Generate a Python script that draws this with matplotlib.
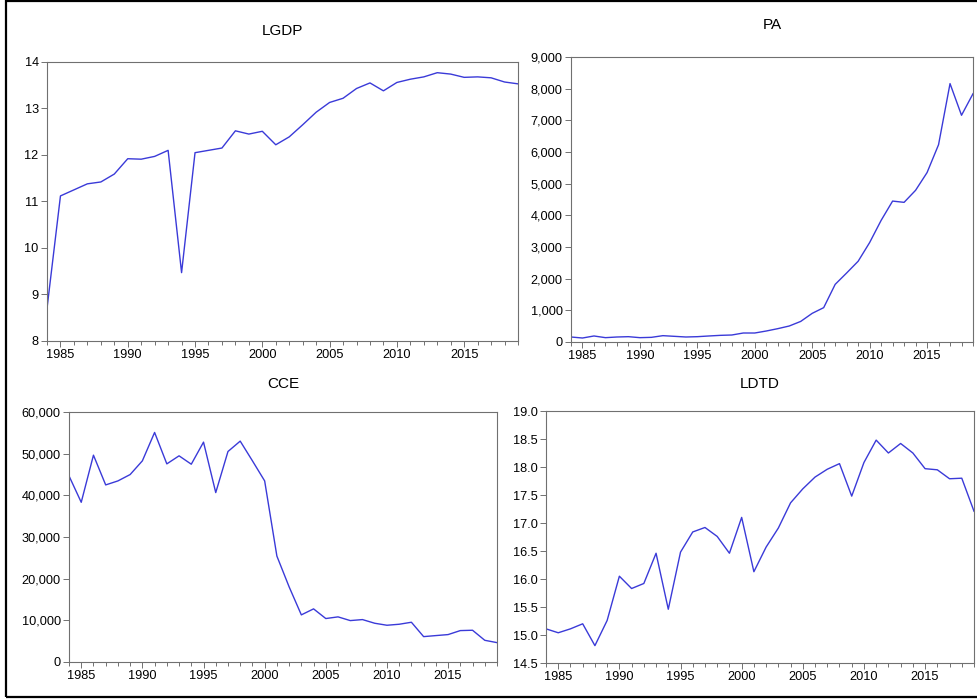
import matplotlib
matplotlib.use('Agg')
import matplotlib.pyplot as plt
from matplotlib.ticker import MultipleLocator, FuncFormatter
from matplotlib.patches import Rectangle

plt.rcParams['font.family'] = ['Liberation Sans', 'DejaVu Sans']

years = list(range(1984, 2020))

lgdp = [8.70, 11.12, 11.25, 11.38, 11.42, 11.59, 11.92, 11.91, 11.97, 12.10,
        9.47, 12.05, 12.10, 12.15, 12.52, 12.45, 12.51, 12.22, 12.39, 12.65,
        12.92, 13.13, 13.22, 13.43, 13.55, 13.38, 13.56, 13.63, 13.68, 13.77,
        13.74, 13.67, 13.68, 13.66, 13.57, 13.53]

pa = [158, 126, 190, 137, 158, 168, 137, 147, 200, 179,
      158, 168, 190, 210, 221, 284, 284, 347, 421, 505,
      650, 905, 1085, 1820, 2180, 2550, 3140, 3840, 4450, 4410,
      4790, 5350, 6230, 8160, 7160, 7840]

cce = [44670, 38330, 49640, 42500, 43460, 44990, 48280, 55090, 47550, 49480,
       47470, 52770, 40660, 50520, 53010, 48280, 43460, 25420, 18040, 11310,
       12750, 10430, 10830, 9940, 10180, 9300, 8820, 9060, 9540, 6090,
       6340, 6580, 7540, 7620, 5210, 4650]

ldtd = [15.11, 15.04, 15.11, 15.20, 14.81, 15.26, 16.05, 15.83, 15.92, 16.46,
        15.46, 16.48, 16.84, 16.92, 16.76, 16.46, 17.10, 16.13, 16.57, 16.91,
        17.36, 17.61, 17.82, 17.96, 18.06, 17.48, 18.08, 18.48, 18.25, 18.42,
        18.25, 17.97, 17.95, 17.79, 17.80, 17.21]

W, H = 977, 699
fig = plt.figure(figsize=(W / 100, H / 100), dpi=100)

# outer frame
fig.patches.append(Rectangle((6 / W, 1 - 697 / H), 1.0, (697 - 1) / H,
                             transform=fig.transFigure, fill=False,
                             edgecolor='black', linewidth=1.6))


def make_axes(l, r, t, b):
    return fig.add_axes([l / W, 1 - b / H, (r - l) / W, (b - t) / H])


panels = [
    ('LGDP', lgdp, (47, 518, 62, 341), (8, 14), 1, lambda v, p: '%d' % v, 31),
    ('PA', pa, (571, 973, 57, 342), (0, 9000), 1000, lambda v, p: '{:,.0f}'.format(v), 25),
    ('CCE', cce, (69, 497, 412, 662), (0, 60000), 10000, lambda v, p: '{:,.0f}'.format(v), 384),
    ('LDTD', ldtd, (546, 974, 411, 663), (14.5, 19.0), 0.5, lambda v, p: '%.1f' % v, 384),
]

for name, vals, box, ylim, step, fmt, ty in panels:
    ax = make_axes(*box)
    ax.plot(years, vals, color='#3a3ad8', linewidth=1.0)
    ax.set_xlim(1984, 2019)
    ax.set_ylim(*ylim)
    ax.xaxis.set_major_locator(MultipleLocator(5))
    ax.xaxis.set_minor_locator(MultipleLocator(1))
    ax.yaxis.set_major_locator(MultipleLocator(step))
    ax.yaxis.set_major_formatter(FuncFormatter(fmt))
    for s in ax.spines.values():
        s.set_color('#707070')
        s.set_linewidth(0.8)
    ax.tick_params(axis='both', which='major', direction='out', length=4,
                   width=0.7, color='#707070', labelsize=9.2, pad=2)
    ax.tick_params(axis='x', which='minor', direction='out', length=3,
                   width=0.7, color='#707070')
    ax.tick_params(axis='y', which='minor', left=False)
    cx = (box[0] + box[1]) / 2
    fig.text(cx / W, 1 - ty / H, name, ha='center', va='center', fontsize=11)

fig.savefig('out.png', dpi=100)
